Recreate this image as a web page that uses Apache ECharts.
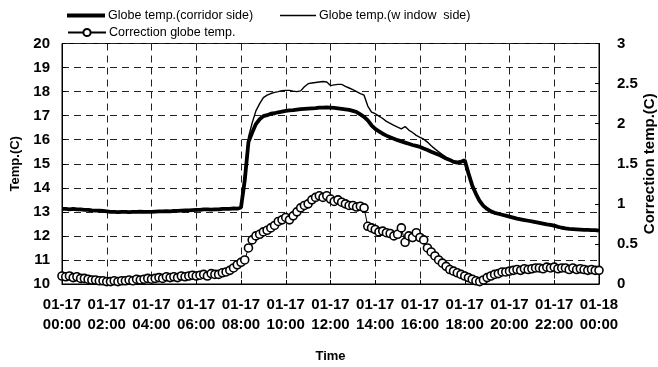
<!DOCTYPE html>
<html>
<head>
<meta charset="utf-8">
<script src="https://cdn.jsdelivr.net/npm/echarts@6/dist/echarts.min.js"></script>
<style>
  html, body { margin: 0; padding: 0; background: #fff; }
  #chart { width: 658px; height: 367px; }
</style>
</head>
<body>
<div id="chart"></div>
<script>
// Sampling step of the logged data (minutes)
const stepMinutes = 10;

// X-axis tick labels (every 2 hours)
const tickDates = ['01-17','01-17','01-17','01-17','01-17','01-17','01-17','01-17','01-17','01-17','01-17','01-17','01-18'];
const tickTimes = ['00:00','02:00','04:00','06:00','08:00','10:00','12:00','14:00','16:00','18:00','20:00','22:00','00:00'];

// Globe temperature, corridor side (°C), 10-minute samples 00:00 – 24:00
const corridorTemp = [
  13.12,13.12,13.10,13.12,13.10,13.10,
  13.08,13.08,13.06,13.05,13.05,13.04,
  13.02,13.00,13.00,12.99,13.00,13.00,
  12.99,13.00,13.00,13.01,13.00,13.00,
  13.00,13.01,13.02,13.02,13.03,13.02,
  13.04,13.04,13.05,13.06,13.06,13.07,
  13.08,13.08,13.10,13.10,13.09,13.10,
  13.10,13.12,13.12,13.12,13.14,13.13,
  13.18,14.30,15.90,16.30,16.65,16.85,
  16.98,17.02,17.08,17.10,17.14,17.17,
  17.20,17.22,17.23,17.25,17.27,17.28,
  17.29,17.30,17.31,17.33,17.33,17.34,
  17.33,17.32,17.30,17.28,17.26,17.24,
  17.20,17.15,17.05,16.95,16.80,16.60,
  16.45,16.35,16.25,16.17,16.10,16.04,
  15.98,15.93,15.88,15.83,15.78,15.74,
  15.70,15.63,15.57,15.50,15.44,15.38,
  15.30,15.22,15.16,15.08,15.05,15.08,
  15.15,14.60,14.10,13.75,13.45,13.25,
  13.12,13.02,12.96,12.92,12.88,12.84,
  12.80,12.76,12.72,12.69,12.66,12.63,
  12.60,12.57,12.54,12.51,12.48,12.46,
  12.43,12.38,12.34,12.31,12.29,12.28,
  12.27,12.26,12.25,12.25,12.24,12.24,
  12.22
];

// Globe temperature, window side (°C)
const windowTemp = [
  13.12,13.12,13.10,13.12,13.10,13.10,
  13.08,13.08,13.06,13.05,13.05,13.04,
  13.02,13.00,13.00,12.99,13.00,13.00,
  12.99,13.00,13.00,13.01,13.00,13.00,
  13.00,13.01,13.02,13.02,13.03,13.02,
  13.04,13.04,13.05,13.06,13.06,13.07,
  13.08,13.08,13.10,13.10,13.09,13.10,
  13.10,13.12,13.12,13.12,13.14,13.13,
  13.20,14.60,16.10,16.70,17.20,17.50,
  17.75,17.85,17.92,17.97,18.00,18.04,
  18.05,18.05,18.02,18.00,18.03,18.20,
  18.33,18.36,18.38,18.40,18.42,18.40,
  18.25,18.28,18.30,18.30,18.22,18.15,
  18.08,18.00,17.92,17.85,17.40,17.15,
  17.08,16.98,16.88,16.76,16.68,16.60,
  16.52,16.45,16.55,16.40,16.30,16.18,
  16.10,16.02,15.90,15.75,15.62,15.50,
  15.38,15.27,15.18,15.12,15.10,15.12,
  15.15,14.62,14.12,13.78,13.48,13.28,
  13.15,13.05,12.98,12.94,12.90,12.86,
  12.82,12.78,12.74,12.70,12.66,12.63,
  12.58,12.54,12.52,12.50,12.47,12.42,
  12.38,12.34,12.31,12.29,12.28,12.27,
  12.26,12.25,12.24,12.24,12.23,12.23,
  12.22
];

// Correction globe temperature (°C), right axis
const correctionTemp = [
  0.10,0.09,0.10,0.08,0.09,0.07,
  0.07,0.06,0.05,0.05,0.04,0.04,
  0.03,0.03,0.04,0.03,0.04,0.04,
  0.05,0.04,0.06,0.05,0.06,0.07,
  0.06,0.07,0.08,0.07,0.09,0.08,
  0.09,0.08,0.10,0.09,0.10,0.11,
  0.10,0.11,0.12,0.10,0.13,0.12,
  0.12,0.14,0.15,0.17,0.20,0.24,
  0.27,0.30,0.45,0.55,0.60,0.62,
  0.65,0.67,0.70,0.73,0.78,0.80,
  0.83,0.80,0.85,0.90,0.95,0.98,
  1.00,1.05,1.08,1.10,1.08,1.10,
  1.06,1.03,1.05,1.02,1.00,0.98,
  0.98,0.96,0.97,0.95,0.72,0.70,
  0.68,0.65,0.66,0.64,0.63,0.60,
  0.62,0.70,0.52,0.60,0.58,0.64,
  0.58,0.55,0.45,0.40,0.35,0.30,
  0.26,0.22,0.18,0.16,0.14,0.12,
  0.10,0.08,0.06,0.04,0.03,0.05,
  0.08,0.10,0.12,0.13,0.15,0.15,
  0.16,0.17,0.18,0.17,0.19,0.18,
  0.19,0.20,0.20,0.19,0.21,0.20,
  0.21,0.19,0.20,0.20,0.18,0.20,
  0.18,0.19,0.18,0.17,0.18,0.17,
  0.17
];

const seriesNames = ['Globe temp.(corridor side)', 'Globe temp.(w indow  side)', 'Correction globe temp.'];

function toPoints(values) {
  return values.map((v, i) => [i * stepMinutes, v]);
}

const FONT = 'Liberation Sans, Arial, sans-serif';
const ink = '#000';
const dashed = { type: [7, 5], color: '#222', width: 1 };

const chart = echarts.init(document.getElementById('chart'), null, { renderer: 'canvas' });

const legendText = { color: ink, fontFamily: FONT, fontSize: 12.5, padding: [0, 0, 0, -2] };

chart.setOption({
  animation: false,
  backgroundColor: '#fff',
  textStyle: { fontFamily: FONT, color: ink },
  legend: [
    { data: [{ name: seriesNames[0], icon: 'rect' }], left: 62, top: 4, itemWidth: 38, itemHeight: 4, itemGap: 0,
      itemStyle: { color: ink, borderWidth: 0 }, textStyle: legendText, selectedMode: false },
    { data: [{ name: seriesNames[1], icon: 'rect' }], left: 275, top: 4, itemWidth: 36, itemHeight: 1.4, itemGap: 0,
      itemStyle: { color: ink, borderWidth: 0 }, textStyle: legendText, selectedMode: false },
    { data: [seriesNames[2]], left: 62, top: 21, itemWidth: 38, itemHeight: 9, itemGap: 0, textStyle: legendText, selectedMode: false }
  ],
  grid: {
    left: 62, right: 59, top: 43.5, bottom: 83,
    outerBoundsMode: 'none',
    containLabel: false,
    show: true, borderColor: ink, borderWidth: 1, backgroundColor: 'transparent'
  },
  xAxis: {
    type: 'value',
    min: 0, max: 1440, interval: 120,
    name: 'Time',
    nameLocation: 'middle',
    nameGap: 66,
    nameTextStyle: { fontFamily: FONT, fontSize: 13, color: ink, fontWeight: 'bold' },
    axisLine: { show: true, onZero: false, lineStyle: { color: ink, width: 1 } },
    axisTick: { show: true, inside: true, length: 4, lineStyle: { color: ink } },
    axisLabel: {
      show: true, margin: 11, color: ink, fontFamily: FONT, fontSize: 15, fontWeight: 'bold', lineHeight: 20,
      showMinLabel: true, showMaxLabel: true,
      formatter: function (val) {
        const i = Math.round(val / 120);
        return tickDates[i] + '\n' + tickTimes[i];
      }
    },
    splitLine: { show: true, lineStyle: dashed }
  },
  yAxis: [
    {
      type: 'value',
      min: 10, max: 20, interval: 1,
      name: 'Temp.(C)',
      nameLocation: 'middle',
      nameGap: 39,
      nameRotate: 90,
      nameTextStyle: { fontFamily: FONT, fontSize: 13, color: ink, fontWeight: 'bold' },
      axisLine: { show: true, lineStyle: { color: ink, width: 1 } },
      axisTick: { show: true, inside: true, length: 4, lineStyle: { color: ink } },
      axisLabel: { margin: 12, color: ink, fontFamily: FONT, fontSize: 15, fontWeight: 'bold' },
      splitLine: { show: true, lineStyle: dashed }
    },
    {
      type: 'value',
      min: 0, max: 3, interval: 0.5,
      position: 'right',
      name: 'Correction temp.(C)',
      nameLocation: 'middle',
      nameGap: 43,
      nameMoveOverlap: false,
      nameRotate: 90,
      nameTextStyle: { fontFamily: FONT, fontSize: 15, color: ink, fontWeight: 'bold' },
      axisLine: { show: true, lineStyle: { color: ink, width: 1 } },
      axisTick: { show: true, inside: true, length: 4, lineStyle: { color: ink } },
      axisLabel: {
        margin: 18, color: ink, fontFamily: FONT, fontSize: 15, fontWeight: 'bold',
        formatter: function (v) { return String(v); }
      },
      splitLine: { show: false }
    }
  ],
  series: [
    {
      name: seriesNames[1],
      type: 'line',
      yAxisIndex: 0,
      data: toPoints(windowTemp),
      showSymbol: false,
      symbol: 'none',
      lineStyle: { color: ink, width: 1.4 },
      itemStyle: { color: ink },
      z: 2
    },
    {
      name: seriesNames[0],
      type: 'line',
      yAxisIndex: 0,
      data: toPoints(corridorTemp),
      showSymbol: false,
      symbol: 'none',
      lineStyle: { color: ink, width: 3.8 },
      itemStyle: { color: ink },
      z: 3
    },
    {
      name: seriesNames[2],
      type: 'line',
      yAxisIndex: 1,
      data: toPoints(correctionTemp),
      symbol: 'circle',
      symbolSize: 8,
      showSymbol: true,
      showAllSymbol: true,
      lineStyle: { color: ink, width: 1 },
      itemStyle: { color: '#fff', borderColor: ink, borderWidth: 1.6 },
      z: 4
    }
  ]
});
</script>
</body>
</html>
